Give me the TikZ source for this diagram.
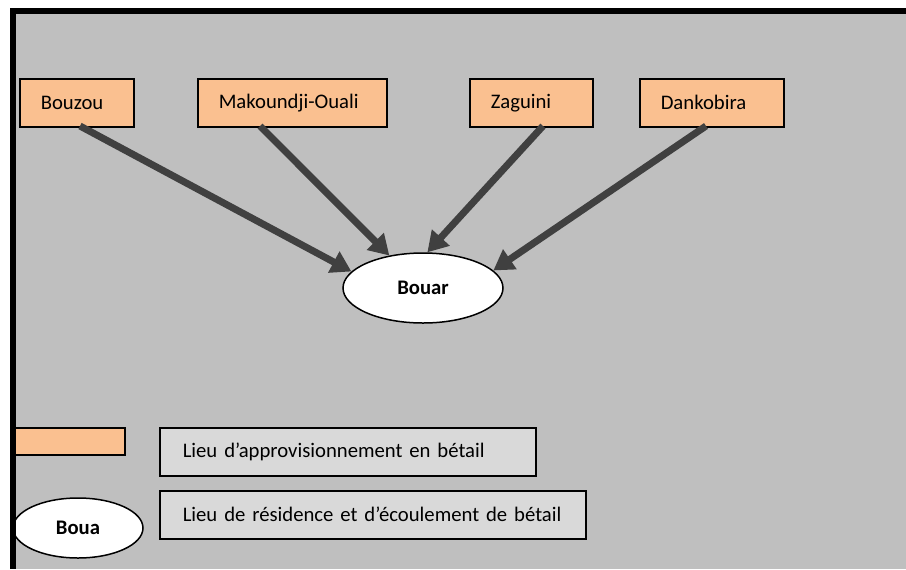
\documentclass[tikz,border=0pt]{standalone}
\usepackage{fontspec}
\setmainfont{Carlito}
\usetikzlibrary{arrows.meta,shapes.geometric}
\definecolor{bggray}{HTML}{BFBFBF}
\definecolor{srcorange}{HTML}{FAC090}
\definecolor{leggray}{HTML}{D9D9D9}
\definecolor{arrowgray}{HTML}{404040}
\begin{document}
\begin{tikzpicture}[x=0.5pt,y=-0.5pt,
  every node/.style={font=\fontsize{10.35pt}{12pt}\selectfont},
  srcbox/.style={draw=black, line width=0.75pt, fill=srcorange, anchor=north west,
    minimum height=24pt, inner xsep=10.5pt, inner ysep=0pt, align=left, text width=#1},
  legbox/.style={draw=black, line width=0.75pt, fill=leggray, anchor=north west,
    minimum height=24pt, inner xsep=11.5pt, inner ysep=0pt, align=left, text width=#1},
  place/.style={draw=black, line width=0.75pt, fill=white, ellipse, inner sep=0pt,
    font=\fontsize{10.35pt}{12pt}\selectfont\bfseries},
  flow/.style={draw=arrowgray, line width=3.5pt,
    -{Triangle[width=11.5pt,length=10pt]}}
]
\useasboundingbox (0,0) rectangle (906,569);
\fill[white] (0,0) rectangle (906,569);
\fill[bggray] (13,11) rectangle (906,569);

% source boxes
\node[srcbox=36pt] (bouzou) at (19,78) {\mbox{Bouzou}};
\node[srcbox=73.5pt] (mak) at (197,78) {\mbox{Makoundji-Ouali}};
\node[srcbox=40.5pt] (zag) at (469,78) {\mbox{Zaguini}};
\node[srcbox=51pt] (dank) at (639,78) {\mbox{Dankobira}};

% destination
\node[place, minimum width=80pt, minimum height=35pt] (bouar) at (423,288) {Bouar};

% arrow start points
\coordinate (s1) at (80,126);
\coordinate (s2) at (260,126);
\coordinate (s3) at (543,126);
\coordinate (s4) at (706,126);

\draw[flow] (s1) -- (bouar.167);
\draw[flow] (s2) -- (bouar.136);
\draw[flow] (s3) -- (bouar.83);
\draw[flow] (s4) -- (bouar.14);

% legend
\node[draw=black, line width=0.75pt, fill=srcorange, anchor=north west,
  minimum width=55.5pt, minimum height=13.5pt, inner sep=0pt] (legsrc) at (13,427) {};
\node[legbox=165pt] (legtxt1) at (159,427) {\mbox{Lieu d’approvisionnement en bétail}};
\node[place, minimum width=65pt, minimum height=30pt] (legdst) at (78,528) {Boua};
\node[legbox=190pt] (legtxt2) at (159,490) {\mbox{Lieu de résidence et d’écoulement de bétail}};

% frame lines (top and left)
\fill[black] (10,8) rectangle (906,14);
\fill[black] (10,8) rectangle (16,569);
\end{tikzpicture}
\end{document}
